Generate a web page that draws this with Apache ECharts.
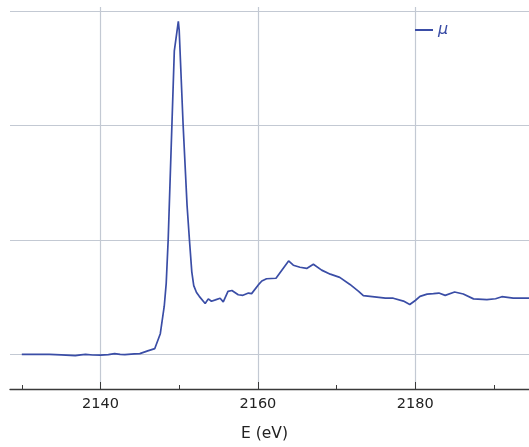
<!DOCTYPE html>
<html>
<head>
<meta charset="utf-8">
<script src="https://cdn.jsdelivr.net/npm/echarts@6/dist/echarts.min.js"></script>
<style>html,body{margin:0;padding:0;background:#fff;}#chart{width:529px;height:447px;}</style>
</head>
<body>
<div id="chart"></div>
<script>
const energy = [2130.0, 2131.5, 2133.5, 2135.0, 2136.8, 2137.5, 2138.1, 2139.0, 2140.0, 2141.0, 2141.8, 2142.5, 2143.1, 2144.3, 2145.0, 2146.0, 2146.9, 2147.6, 2148.1, 2148.35, 2148.6, 2149.38, 2149.89, 2150.0, 2150.5, 2151.0, 2151.3, 2151.6, 2151.85, 2152.2, 2152.55, 2153.3, 2153.7, 2154.1, 2154.6, 2155.2, 2155.6, 2156.2, 2156.7, 2157.5, 2158.1, 2158.8, 2159.2, 2160.05, 2160.5, 2161.1, 2162.3, 2163.9, 2164.5, 2165.35, 2166.2, 2167.05, 2168.1, 2169.2, 2170.4, 2171.7, 2172.8, 2173.4, 2175.1, 2176.2, 2177.2, 2178.5, 2179.3, 2180.0, 2180.6, 2181.5, 2182.3, 2183.0, 2183.8, 2185.0, 2186.1, 2187.4, 2189.1, 2190.2, 2191.0, 2192.45, 2194.45];
const mu = [0.0, 0.0, 0.0, -0.005, -0.012, -0.005, 0.0, -0.006, -0.008, -0.003, 0.006, 0.0, -0.002, 0.003, 0.006, 0.03, 0.05, 0.18, 0.42, 0.62, 1.0, 2.65, 2.907, 2.83, 2.0, 1.3, 1.0, 0.72, 0.6, 0.54, 0.506, 0.443, 0.484, 0.463, 0.475, 0.49, 0.458, 0.55, 0.557, 0.52, 0.515, 0.535, 0.53, 0.606, 0.64, 0.66, 0.664, 0.815, 0.778, 0.76, 0.75, 0.786, 0.735, 0.70, 0.672, 0.61, 0.55, 0.512, 0.50, 0.49, 0.49, 0.465, 0.435, 0.47, 0.506, 0.525, 0.53, 0.535, 0.515, 0.544, 0.527, 0.484, 0.478, 0.485, 0.503, 0.49, 0.49];
const majorTicks = [2140, 2160, 2180];
const minorTicks = [2130, 2150, 2170, 2190];
const yGridValues = [0, 1, 2, 3];
const xName = 'E (eV)';
const seriesName = 'μ';

const X_MIN = 2128.5, X_MAX = 2194.45, Y_MIN = -0.303, Y_MAX = 3.033;
const blue = '#3a4da6';
const gridColor = '#c3c9d3';

const chart = echarts.init(document.getElementById('chart'), null, {renderer: 'canvas'});
chart.setOption({
  animation: false,
  backgroundColor: '#ffffff',
  grid: {left: 10, right: 0, top: 7, bottom: 51, containLabel: false},
  legend: {
    data: [seriesName],
    left: 410, top: 17,
    icon: 'rect', itemWidth: 18, itemHeight: 2, itemGap: 10,
    textStyle: {color: blue, fontStyle: 'italic', fontSize: 16, fontFamily: 'DejaVu Sans'}
  },
  xAxis: [{
    type: 'value', min: X_MIN, max: X_MAX, splitNumber: 3,
    axisLine: {show: true, onZero: false, lineStyle: {color: '#3a3a3a', width: 1.3}},
    axisTick: {show: true, inside: true, length: 7, customValues: majorTicks, lineStyle: {color: '#3a3a3a'}},
    axisLabel: {customValues: majorTicks, color: '#222', fontSize: 14.5, fontFamily: 'DejaVu Sans', margin: 8,
      formatter: v => String(Math.round(v))},
    splitLine: {show: true, lineStyle: {color: gridColor, width: 1.2}},
    name: xName, nameLocation: 'middle', nameGap: 37,
    nameTextStyle: {color: '#222', fontSize: 15.5, fontFamily: 'DejaVu Sans', padding: [0, 10, 0, 0]}
  }, {
    type: 'value', min: X_MIN, max: X_MAX, position: 'bottom',
    axisLine: {show: false, onZero: false},
    axisTick: {show: true, inside: true, length: 4, customValues: minorTicks, lineStyle: {color: '#3a3a3a'}},
    axisLabel: {show: false},
    splitLine: {show: false}
  }],
  yAxis: {
    type: 'value', min: Y_MIN, max: Y_MAX, splitNumber: 3,
    axisLine: {show: false},
    axisTick: {show: true, length: 0, customValues: yGridValues, lineStyle: {color: 'rgba(0,0,0,0)'}},
    axisLabel: {show: false, customValues: yGridValues},
    splitLine: {show: true, showMinLine: true, showMaxLine: true, lineStyle: {color: gridColor, width: 1.2}}
  },
  series: [{
    name: seriesName, type: 'line', xAxisIndex: 0,
    data: energy.map((e, i) => [e, mu[i]]),
    showSymbol: false, symbol: 'none',
    lineStyle: {color: blue, width: 1.7},
    itemStyle: {color: blue}
  }]
});
</script>
</body>
</html>
